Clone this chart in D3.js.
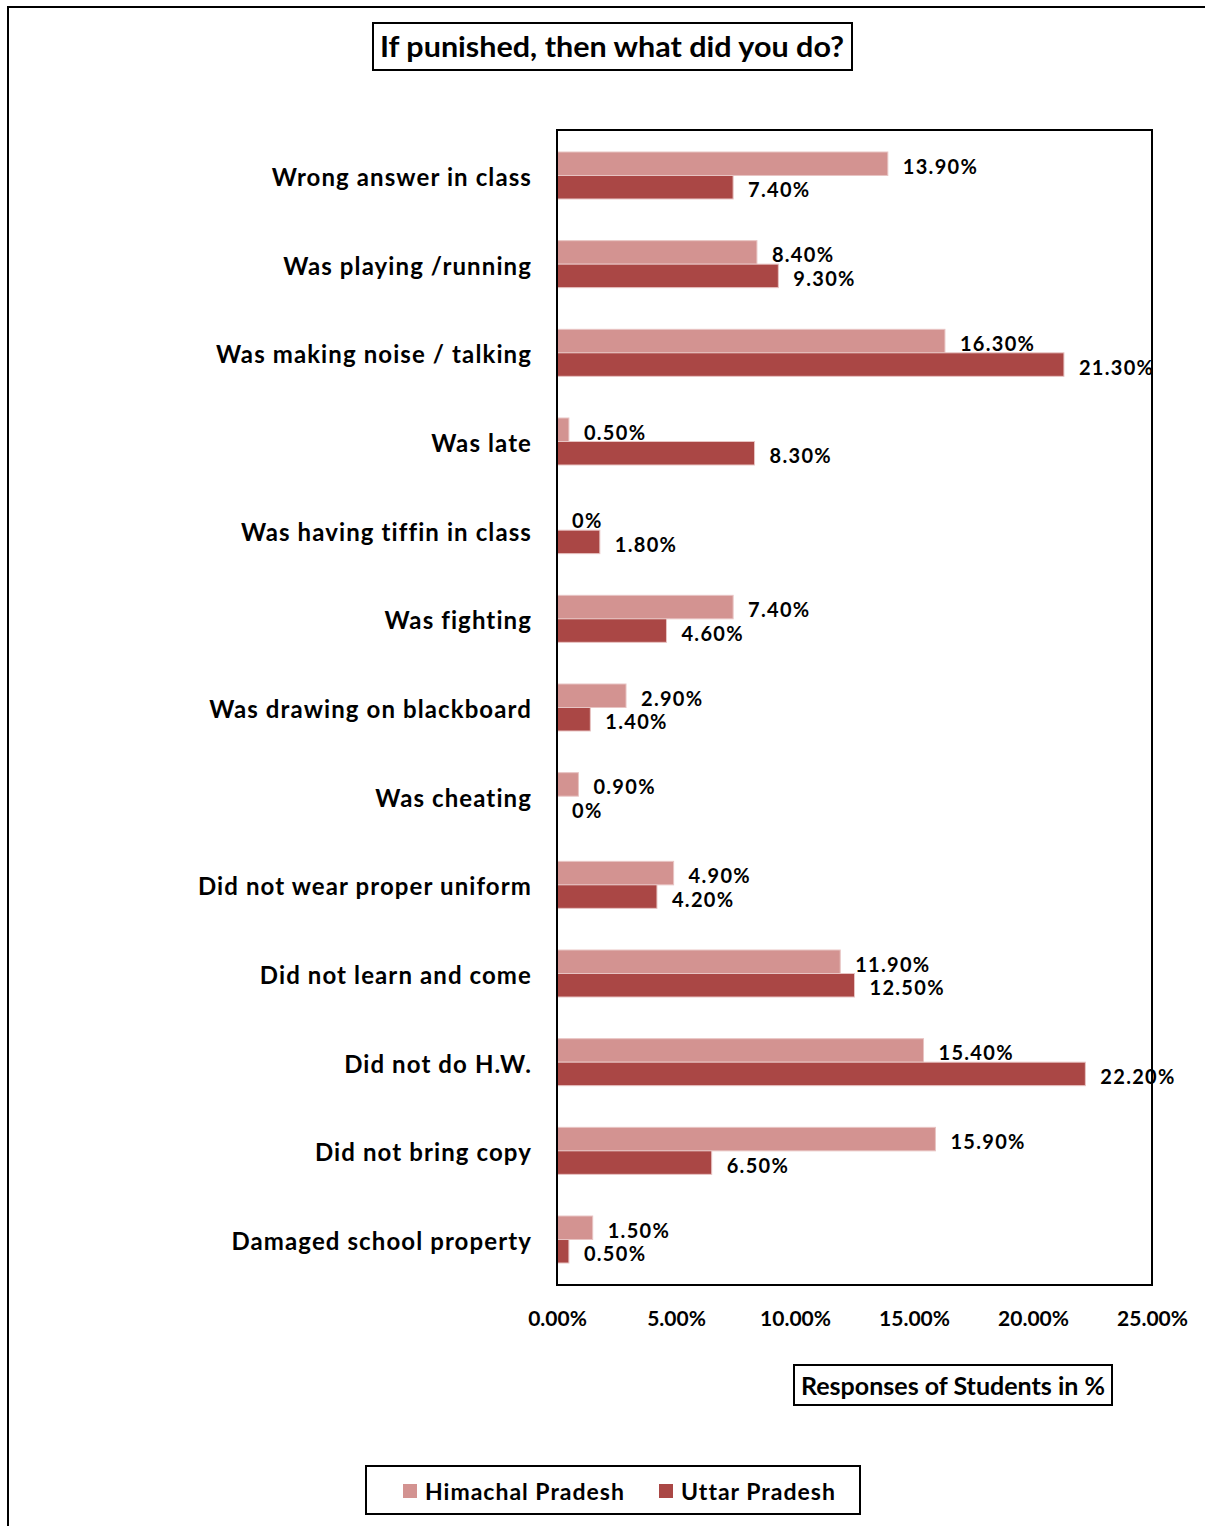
<!DOCTYPE html>
<html>
<head>
<meta charset="utf-8">
<script src="https://cdn.jsdelivr.net/npm/d3@7"></script>
<style>
  body { margin: 0; background: #fff; }
  svg { display: block; font-family: Lato, 'Open Sans', sans-serif; font-weight: bold; }
</style>
</head>
<body>
<div id="chart"></div>
<script>
const categories = [
  'Wrong answer in class',
  'Was playing /running',
  'Was making noise / talking',
  'Was late',
  'Was having tiffin in class',
  'Was fighting',
  'Was drawing on blackboard',
  'Was cheating',
  'Did not wear proper uniform',
  'Did not learn and come',
  'Did not do H.W.',
  'Did not bring copy',
  'Damaged school property'
]
const himachal = [13.9, 8.4, 16.3, 0.5, 0, 7.4, 2.9, 0.9, 4.9, 11.9, 15.4, 15.9, 1.5]
const uttar = [7.4, 9.3, 21.3, 8.3, 1.8, 4.6, 1.4, 0, 4.2, 12.5, 22.2, 6.5, 0.5]
const seriesNames = ['Himachal Pradesh', 'Uttar Pradesh']
const xTicks = [0, 5, 10, 15, 20, 25]

const colors = {'Himachal Pradesh': '#d39391', 'Uttar Pradesh': '#aa4745'}

const width = 1205
const height = 1526
const plot = {left: 557, right: 1152, top: 130, bottom: 1285}

const svg = d3.select('#chart')
  .append('svg')
  .attr('width', width)
  .attr('height', height)

// outer chart border (only top + left are in view)
svg.append('rect')
  .attr('x', 8).attr('y', 7)
  .attr('width', 1300).attr('height', 1600)
  .attr('fill', 'none')
  .attr('stroke', '#000')
  .attr('stroke-width', 2)

// title
svg.append('rect')
  .attr('x', 373).attr('y', 23).attr('width', 479).attr('height', 47)
  .attr('fill', '#fff').attr('stroke', '#000').attr('stroke-width', 2)
svg.append('text')
  .attr('x', 612).attr('y', 57)
  .attr('text-anchor', 'middle')
  .attr('font-size', 28)
  .attr('textLength', 464)
  .attr('lengthAdjust', 'spacingAndGlyphs')
  .text('If punished, then what did you do?')

const x = d3.scaleLinear()
  .domain([0, 25])
  .range([plot.left, plot.right])

const y = d3.scaleBand()
  .domain(categories)
  .range([plot.top, plot.bottom])
  .paddingInner(0.47)
  .paddingOuter(0.248)

const ySub = d3.scaleBand()
  .domain(seriesNames)
  .range([0, y.bandwidth()])

const rows = categories.map((c, i) => ({
  cat: c,
  values: [
    {series: seriesNames[0], v: himachal[i]},
    {series: seriesNames[1], v: uttar[i]}
  ]
}))

const fmt = (v) => v === 0 ? '0%' : v.toFixed(2) + '%'

const group = svg.append('g')
  .selectAll('g')
  .data(rows)
  .join('g')
  .attr('transform', d => `translate(0,${y(d.cat)})`)

group.selectAll('rect')
  .data(d => d.values)
  .join('rect')
  .attr('x', x(0))
  .attr('y', d => ySub(d.series))
  .attr('width', d => x(d.v) - x(0))
  .attr('height', ySub.bandwidth())
  .attr('fill', d => colors[d.series])
  .attr('stroke', d => d.v > 0 ? '#e8c4c3' : 'none')
  .attr('stroke-width', 1)

group.selectAll('text.val')
  .data(d => d.values)
  .join('text')
  .attr('class', 'val')
  .attr('x', d => x(d.v) + 15)
  .attr('y', d => ySub(d.series) + ySub.bandwidth() / 2 + 3)
  .attr('dy', '0.35em')
  .attr('font-size', 20)
  .attr('letter-spacing', 1.3)
  .text(d => fmt(d.v))

// category labels
svg.append('g')
  .selectAll('text')
  .data(categories)
  .join('text')
  .attr('x', 532)
  .attr('y', d => y(d) + y.bandwidth() / 2 + 2)
  .attr('dy', '0.35em')
  .attr('text-anchor', 'end')
  .attr('font-size', 24)
  .attr('letter-spacing', 1.1)
  .text(d => d)

// plot frame
svg.append('rect')
  .attr('x', plot.left).attr('y', plot.top)
  .attr('width', plot.right - plot.left)
  .attr('height', plot.bottom - plot.top)
  .attr('fill', 'none')
  .attr('stroke', '#000')
  .attr('stroke-width', 2)

// x axis labels
const xAxis = svg.append('g')
  .attr('transform', `translate(0,${plot.bottom + 34})`)
  .call(d3.axisBottom(x).tickValues(xTicks).tickFormat(d => d.toFixed(2) + '%').tickSize(0))
xAxis.select('.domain').remove()
xAxis.selectAll('text')
  .attr('font-size', 21)
  .attr('font-family', 'Lato, sans-serif')
  .attr('font-weight', 'bold')
  .attr('fill', '#000')
  .attr('y', 0)
  .attr('dy', '0.35em')

// axis title
svg.append('rect')
  .attr('x', 794).attr('y', 1365).attr('width', 318).attr('height', 40)
  .attr('fill', '#fff').attr('stroke', '#000').attr('stroke-width', 2)
svg.append('text')
  .attr('x', 953).attr('y', 1395)
  .attr('text-anchor', 'middle')
  .attr('font-size', 24)
  .attr('textLength', 304)
  .attr('lengthAdjust', 'spacingAndGlyphs')
  .text('Responses of Students in %')

// legend
svg.append('rect')
  .attr('x', 366).attr('y', 1466).attr('width', 494).attr('height', 48)
  .attr('fill', '#fff').attr('stroke', '#000').attr('stroke-width', 2)
const legendX = [403, 659]
const legend = svg.append('g')
  .selectAll('g')
  .data(seriesNames)
  .join('g')
  .attr('transform', (d, i) => `translate(${legendX[i]},1484)`)
legend.append('rect')
  .attr('width', 14).attr('height', 14)
  .attr('fill', d => colors[d])
legend.append('text')
  .attr('x', 22).attr('y', 8)
  .attr('dy', '0.35em')
  .attr('font-size', 23)
  .attr('letter-spacing', 1)
  .text(d => d)
</script>
</body>
</html>
